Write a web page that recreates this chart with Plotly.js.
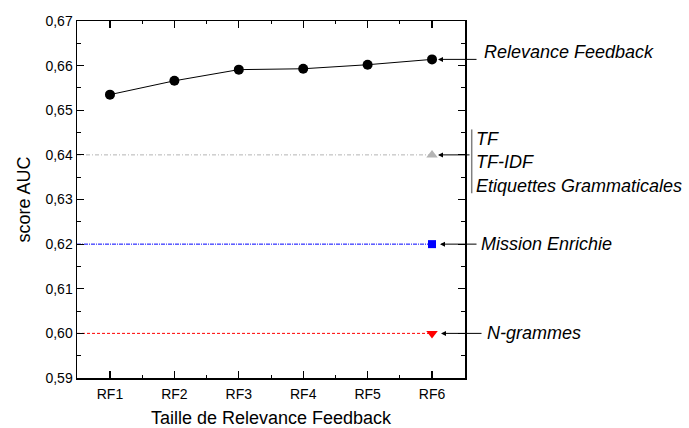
<!DOCTYPE html>
<html>
<head>
<meta charset="utf-8">
<script src="https://cdn.plot.ly/plotly-3.0.1.min.js"></script>
<style>html,body{margin:0;padding:0;background:#fff;}#chart{width:689px;height:428px;}</style>
</head>
<body>
<div id="chart"></div>
<script>
// ---- data ----
const categories = ['RF1', 'RF2', 'RF3', 'RF4', 'RF5', 'RF6'];
const xPositions = [1, 2, 3, 4, 5, 6];
const relevanceFeedbackScores = [0.6535, 0.6566, 0.6591, 0.6593, 0.6602, 0.6614];
const tfScore = 0.640;
const missionEnrichieScore = 0.620;
const ngrammesScore = 0.600;
const yTickValues = [0.59, 0.60, 0.61, 0.62, 0.63, 0.64, 0.65, 0.66, 0.67];
const labelRelevance = 'Relevance Feedback';
const labelTFGroup = ['TF', 'TF-IDF', 'Etiquettes Grammaticales'];
const labelMission = 'Mission Enrichie';
const labelNgrammes = 'N-grammes';

// ---- layout helpers ----
const xRange = [0.488, 6.512];
const yRange = [0.59, 0.67];
const lastX = xPositions[xPositions.length - 1];
const FONT = '"Liberation Sans", Arial, Helvetica, sans-serif';

function baseline(value, color, dash, symbol, size, name) {
  return [
    {x: [xRange[0], lastX], y: [value, value], mode: 'lines', name: name,
     line: {color: color, width: 1, dash: dash}, hoverinfo: 'skip', showlegend: false},
    {x: [lastX], y: [value], mode: 'markers', name: name,
     marker: {symbol: symbol, size: size, color: color}, showlegend: false}
  ];
}

const traces = [
  ...baseline(tfScore, '#b4b4b4', '4px,2px,1px,2px', 'triangle-up', 10, 'TF / TF-IDF / Etiquettes Grammaticales'),
  ...baseline(missionEnrichieScore, '#0000ff', '4px,1px,1px,1px', 'square', 8, labelMission),
  ...baseline(ngrammesScore, '#ff0000', '3px,2px', 'triangle-down', 10, labelNgrammes),
  {x: xPositions, y: relevanceFeedbackScores, mode: 'lines+markers', name: labelRelevance,
   line: {color: '#000', width: 1}, marker: {symbol: 'circle', size: 10, color: '#000'}, showlegend: false}
];

function arrow(y, ax, standoff) {
  return {x: lastX, y: y, xref: 'x', yref: 'y', text: '', showarrow: true,
          ax: ax, ay: 0, axref: 'pixel', ayref: 'pixel', arrowhead: 2, arrowsize: 1,
          arrowwidth: 1, arrowcolor: '#000', standoff: standoff};
}
function label(y, text, xshift, yshift) {
  return {x: lastX, y: y, xref: 'x', yref: 'y', text: '<i>' + text + '</i>', showarrow: false,
          xanchor: 'left', yanchor: 'middle', align: 'left', xshift: xshift, yshift: yshift,
          font: {family: FONT, size: 18, color: '#000'}};
}

const annotations = [
  arrow(relevanceFeedbackScores[relevanceFeedbackScores.length - 1], 46, 6),
  label(relevanceFeedbackScores[relevanceFeedbackScores.length - 1], labelRelevance, 50, 7),
  arrow(tfScore, 39, 6),
  label(tfScore, labelTFGroup.join('<br>'), 42, -8),
  arrow(missionEnrichieScore, 46, 8),
  label(missionEnrichieScore, labelMission, 47, 0),
  arrow(ngrammesScore, 51, 9),
  label(ngrammesScore, labelNgrammes, 53, 0)
];

const layout = {
  width: 689, height: 428,
  margin: {l: 77, r: 224, t: 21, b: 50, pad: 0},
  paper_bgcolor: '#fff', plot_bgcolor: '#fff',
  separators: ', ',
  font: {family: FONT, size: 14, color: '#000'},
  showlegend: false,
  xaxis: {
    range: xRange, tickmode: 'array', tickvals: xPositions, ticktext: categories,
    showgrid: false, zeroline: false, showline: true, linecolor: '#000', linewidth: 1.5,
    mirror: 'allticks', ticks: 'inside', ticklen: 7, tickwidth: 1.2, tickcolor: '#000',
    minor: {tick0: 0.5, dtick: 1, ticks: 'inside', ticklen: 3, tickwidth: 1, tickcolor: '#000', showgrid: false},
    tickfont: {family: FONT, size: 14},
    ticklabelstandoff: 3,
    title: {text: 'Taille de Relevance Feedback', font: {family: FONT, size: 18}, standoff: 15}
  },
  yaxis: {
    range: yRange, tickmode: 'array', tickvals: yTickValues, tickformat: '.2f',
    showgrid: false, zeroline: false, showline: true, linecolor: '#000', linewidth: 1.5,
    mirror: 'allticks', ticks: 'inside', ticklen: 7, tickwidth: 1.2, tickcolor: '#000',
    minor: {tick0: 0.595, dtick: 0.01, ticks: 'inside', ticklen: 4, tickwidth: 1, tickcolor: '#000', showgrid: false},
    tickfont: {family: FONT, size: 14},
    title: {text: 'score AUC', font: {family: FONT, size: 18}, standoff: 10}
  },
  shapes: [
    {type: 'line', xref: 'paper', yref: 'y', x0: 1.0173, x1: 1.0173, y0: 0.6314, y1: 0.6457,
     line: {color: '#808080', width: 1.5}}
  ],
  annotations: annotations
};

Plotly.newPlot('chart', traces, layout, {staticPlot: true, displayModeBar: false});
</script>
</body>
</html>
